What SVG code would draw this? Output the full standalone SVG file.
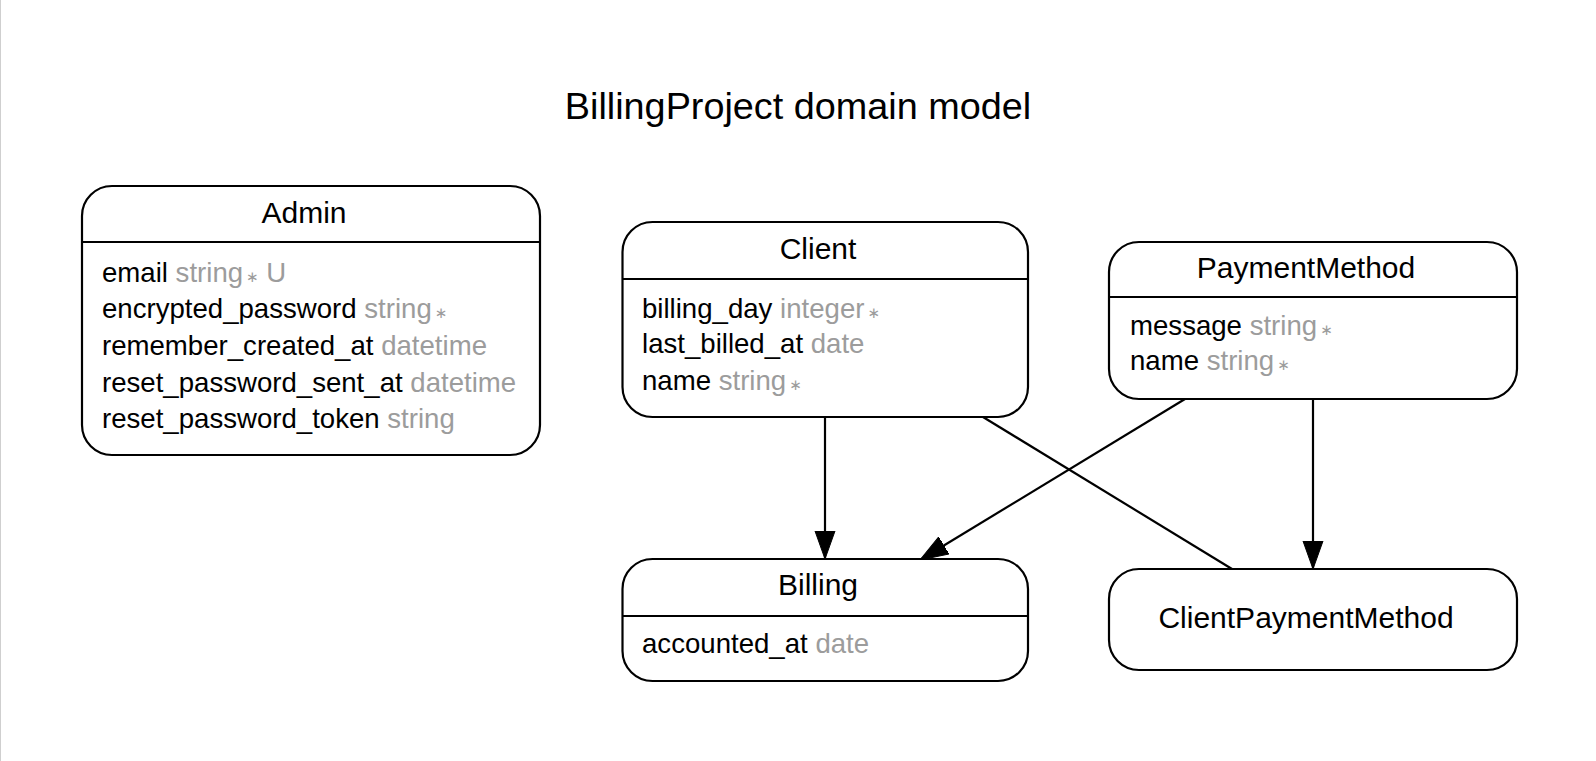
<svg xmlns="http://www.w3.org/2000/svg" width="1596" height="761" viewBox="0 0 1596 761">
<defs>
<style>
.box{fill:#fff;stroke:#000;stroke-width:2.2}
.div{stroke:#000;stroke-width:2.2}
.title{font-family:"Liberation Sans",Arial,sans-serif;font-size:30px;fill:#000;text-anchor:middle}
.field{font-family:"Liberation Sans",Arial,sans-serif;font-size:27.6px;fill:#000}
.type{fill:#9c9c9c}
.star{font-family:"DejaVu Sans",sans-serif;font-size:15px;fill:#9c9c9c}
.edge{fill:none;stroke:#000;stroke-width:2.2}
.gtitle{font-family:"Liberation Sans",Arial,sans-serif;font-size:37.8px;fill:#000;text-anchor:middle}
</style>
<marker id="arrow" markerUnits="userSpaceOnUse" markerWidth="30" markerHeight="22" viewBox="0 -11 30 22" refX="28" refY="0" orient="auto">
<path d="M0,-10 L28,0 L0,10 Z" fill="#000" stroke="#000" stroke-width="1"/>
</marker>
</defs>
<rect x="0" y="0" width="1596" height="761" fill="#fff"/>
<line x1="0.5" y1="0" x2="0.5" y2="761" stroke="#cfcfcf" stroke-width="1"/>
<text class="gtitle" x="798" y="119">BillingProject domain model</text>

<g id="connectors">
<line class="edge" x1="825" y1="417" x2="825" y2="559" marker-end="url(#arrow)"/>
<line class="edge" x1="1185" y1="399" x2="920" y2="560" marker-end="url(#arrow)"/>
<line class="edge" x1="983" y1="417" x2="1232" y2="569"/>
<line class="edge" x1="1313" y1="399" x2="1313" y2="569" marker-end="url(#arrow)"/>
</g>

<g id="Admin">
<rect class="box" x="82" y="186" width="458" height="269" rx="30" ry="30"/>
<line class="div" x1="82" y1="242" x2="540" y2="242"/>
<text class="title" x="304" y="223">Admin</text>
<text class="field" x="102" y="282">email <tspan class="type">string</tspan><tspan class="star" dx="3">∗</tspan><tspan class="type"> U</tspan></text>
<text class="field" x="102" y="318">encrypted_password <tspan class="type">string</tspan><tspan class="star" dx="3">∗</tspan></text>
<text class="field" x="102" y="355">remember_created_at <tspan class="type">datetime</tspan></text>
<text class="field" x="102" y="392">reset_password_sent_at <tspan class="type">datetime</tspan></text>
<text class="field" x="102" y="428">reset_password_token <tspan class="type">string</tspan></text>
</g>

<g id="Client">
<rect class="box" x="622.5" y="222" width="405.5" height="195" rx="30" ry="30"/>
<line class="div" x1="622.5" y1="279" x2="1028" y2="279"/>
<text class="title" x="818" y="259">Client</text>
<text class="field" x="642" y="318">billing_day <tspan class="type">integer</tspan><tspan class="star" dx="3">∗</tspan></text>
<text class="field" x="642" y="353">last_billed_at <tspan class="type">date</tspan></text>
<text class="field" x="642" y="390">name <tspan class="type">string</tspan><tspan class="star" dx="3">∗</tspan></text>
</g>

<g id="PaymentMethod">
<rect class="box" x="1109" y="242" width="408" height="157" rx="30" ry="30"/>
<line class="div" x1="1109" y1="297" x2="1517" y2="297"/>
<text class="title" x="1306" y="278">PaymentMethod</text>
<text class="field" x="1130" y="335">message <tspan class="type">string</tspan><tspan class="star" dx="3">∗</tspan></text>
<text class="field" x="1130" y="370">name <tspan class="type">string</tspan><tspan class="star" dx="3">∗</tspan></text>
</g>

<g id="Billing">
<rect class="box" x="622.5" y="559" width="405.5" height="122" rx="30" ry="30"/>
<line class="div" x1="622.5" y1="616" x2="1028" y2="616"/>
<text class="title" x="818" y="595">Billing</text>
<text class="field" x="642" y="653">accounted_at <tspan class="type">date</tspan></text>
</g>

<g id="ClientPaymentMethod">
<rect class="box" x="1109" y="569" width="408" height="101" rx="30" ry="30"/>
<text class="title" x="1306" y="628">ClientPaymentMethod</text>
</g>
</svg>
